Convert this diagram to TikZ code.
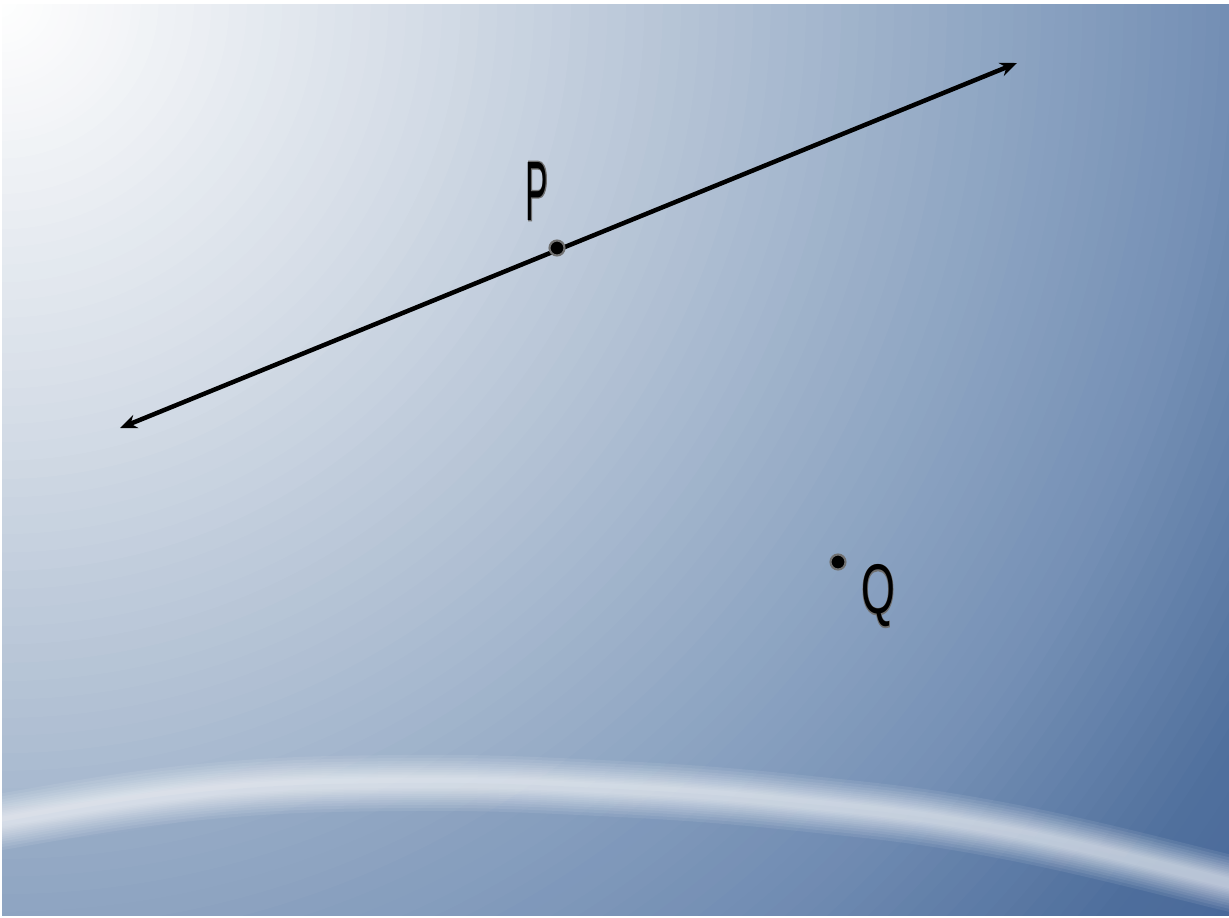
\documentclass[tikz,border=0pt]{standalone}
\usepackage{fontspec}
\setmainfont{Liberation Sans}
\newfontfamily\halofont[FakeBold=3]{Liberation Sans}
\usetikzlibrary{arrows.meta}
\definecolor{bgA}{HTML}{F2F4F7}
\definecolor{bgB}{HTML}{D5DDE7}
\definecolor{bgC}{HTML}{B2C1D4}
\definecolor{bgD}{HTML}{8FA6C3}
\definecolor{bgE}{HTML}{7590B5}
\definecolor{bgF}{HTML}{50709D}
\definecolor{bgG}{HTML}{46669A}
\definecolor{halo}{HTML}{707070}
\tikzset{
  dotpt/.style={circle, fill=black, draw=halo, line width=1.2pt, inner sep=0pt},
  handlbl/.style={inner sep=0pt, text=black},
  halolbl/.style={inner sep=0pt, text=halo},
  bigline/.style={line width=0.09cm, {Stealth[length=0.34cm,width=0.28cm]}-{Stealth[length=0.34cm,width=0.28cm]}},
}
\begin{document}
\begin{tikzpicture}[x=0.02cm,y=-0.02cm]
\useasboundingbox (0,0) rectangle (1229,917);
\fill[white] (0,0) rectangle (1229,917);
\begin{scope}
  \clip (2,4) rectangle (1229,915);
  \foreach \ra/\rb/\ca/\cb in {1442/1600/bgF/bgG, 1220/1442/bgE/bgF, 1000/1220/bgD/bgE, 718/1000/bgC/bgD, 424/718/bgB/bgC, 141/424/bgA/bgB, 0/141/white/bgA} {
    \foreach \k in {0,...,15} {
      \pgfmathsetmacro\rr{\rb-(\rb-\ra)*\k/16}
      \pgfmathsetmacro\pp{(16-\k)*6.25}
      \fill[\cb!\pp!\ca] (0,0) circle[radius=\rr];
    }
  }
  \fill[bgG, opacity=0.12] plot[smooth, tension=0.7] coordinates {(-60,836) (0,822) (200,792) (400,783) (600,788) (800,803) (1000,830) (1229,883) (1290,900)} -- (1290,960) -- (-60,960) -- cycle;
  \foreach \w in {56,50,44,39,34,30,26,22,19,16,13,10} {
    \pgfmathsetmacro\lw{\w*0.02}
    \draw[white, opacity=0.08, line width=\lw cm] plot[smooth, tension=0.7] coordinates {(-60,836) (0,822) (200,792) (400,783) (600,788) (800,803) (1000,830) (1229,883) (1290,900)};
  }
\end{scope}
% line through P
\coordinate (L1) at (120,428);
\coordinate (L2) at (1017,63);
\draw[bigline] (L1) -- (L2);
% points
\node[dotpt, minimum size=0.3cm] (Pdot) at (557,248) {};
\node[dotpt, minimum size=0.3cm] (Qdot) at (838,562) {};
% labels
\node[halolbl, font=\halofont\fontsize{48}{48}\selectfont] (Phalo) at (537,191) {\scalebox{0.4}[1]{P}};
\node[handlbl, font=\fontsize{48}{48}\selectfont] (P) at (537,191) {\scalebox{0.4}[1]{P}};
\node[halolbl, font=\halofont\fontsize{40}{40}\selectfont] (Qhalo) at (878,596) {\scalebox{0.62}[1]{Q}};
\node[handlbl, font=\fontsize{40}{40}\selectfont] (Q) at (878,596) {\scalebox{0.62}[1]{Q}};
\end{tikzpicture}
\end{document}
